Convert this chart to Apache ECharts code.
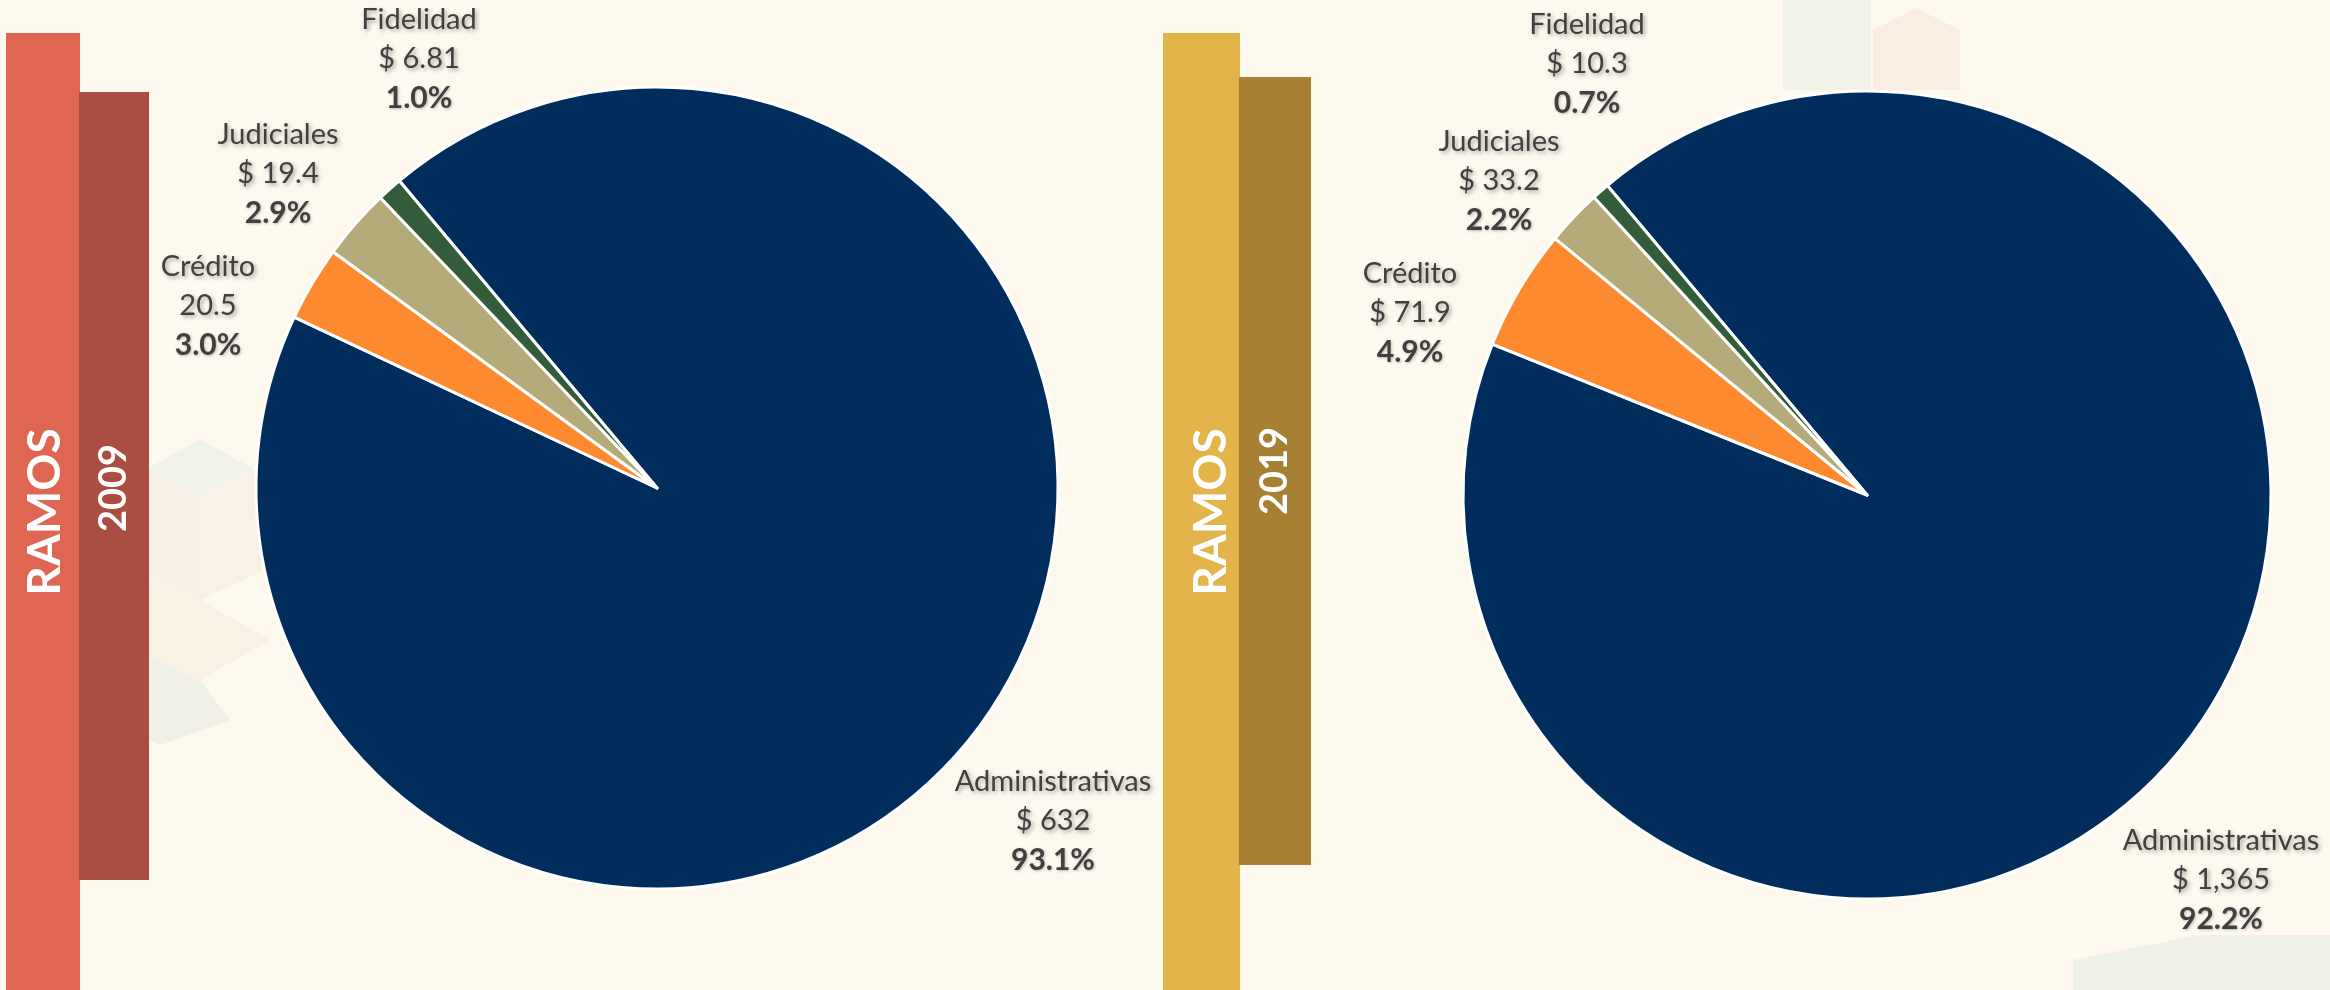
<!DOCTYPE html>
<html>
<head>
<meta charset="utf-8">
<script src="https://cdn.jsdelivr.net/npm/echarts@6/dist/echarts.min.js"></script>
<style>
html,body{margin:0;padding:0;background:#FDF9EE;}
#main{width:2330px;height:990px;}
</style>
</head>
<body>
<div id="main"></div>
<script>
// ---- data ----
const categories = ['Administrativas', 'Crédito', 'Judiciales', 'Fidelidad'];
const values2009 = [632, 20.5, 19.4, 6.81];
const values2019 = [1365, 71.9, 33.2, 10.3];
const prefix2009 = ['$ ', '', '$ ', '$ '];
const prefix2019 = ['$ ', '$ ', '$ ', '$ '];
const years = ['2009', '2019'];
const sideTitle = 'RAMOS';

const colors = ['#012D5C', '#FE8A2F', '#B4AA7A', '#335C3B'];

// label anchor positions (layout only)
const labelPos = [
  {Administrativas:[1053, 821], 'Crédito':[208, 306], Judiciales:[278, 174], Fidelidad:[419, 59]},
  {Administrativas:[2221, 880], 'Crédito':[1410, 313], Judiciales:[1499, 181], Fidelidad:[1587, 64]}
];

const chart = echarts.init(document.getElementById('main'));

function fmtVal(v){
  return v.toLocaleString('en-US');
}

const shadow = {textShadowColor: 'rgba(0,0,0,0.35)', textShadowBlur: 4, textShadowOffsetX: 2, textShadowOffsetY: 2};

function makeSeries(vals, prefixes, center, radius, idx){
  return {
    type: 'pie',
    center: center,
    radius: radius,
    startAngle: 130,
    clockwise: true,
    avoidLabelOverlap: false,
    itemStyle: {borderColor: '#FFFFFF', borderWidth: 3},
    emphasis: {disabled: true},
    labelLine: {show: false},
    label: {
      show: true,
      position: 'outside',
      formatter: function(p){
        return '{n|' + p.name + '}\n{v|' + prefixes[p.dataIndex] + fmtVal(p.value) + '}\n{p|' + p.percent.toFixed(1) + '%}';
      },
      rich: {
        n: Object.assign({fontFamily: 'Lato', fontSize: 29, color: '#404040', lineHeight: 39}, shadow),
        v: Object.assign({fontFamily: 'Lato', fontSize: 29, color: '#404040', lineHeight: 39}, shadow),
        p: {fontFamily: 'Lato', fontSize: 30, fontWeight: 'bold', color: '#404040', lineHeight: 39,
            textShadowColor: 'rgba(0,0,0,0.25)', textShadowBlur: 3, textShadowOffsetX: 1, textShadowOffsetY: 1}
      }
    },
    labelLayout: function(p){
      const pos = labelPos[idx][categories[p.dataIndex]];
      return {x: pos[0], y: pos[1], align: 'center', verticalAlign: 'middle'};
    },
    data: categories.map((c, i) => ({name: c, value: vals[i], itemStyle: {color: colors[i]}}))
  };
}

const whiteText = {fill: '#FFFFFF', fontFamily: 'Lato', fontWeight: 'bold'};

chart.setOption({
  backgroundColor: '#FDF9EE',
  animation: false,
  graphic: [
    // faint background decoration
    {type:'polygon', z:-10, shape:{points:[[148,468],[200,440],[253,468],[200,498]]}, style:{fill:'#EEF0E8', opacity:0.8}},
    {type:'polygon', z:-10, shape:{points:[[148,468],[200,498],[200,600],[148,575]]}, style:{fill:'#F6ECE4', opacity:0.8}},
    {type:'polygon', z:-10, shape:{points:[[200,498],[253,468],[265,570],[200,600]]}, style:{fill:'#F7EEE4', opacity:0.8}},
    {type:'polygon', z:-10, shape:{points:[[148,575],[200,600],[270,640],[200,680],[148,655]]}, style:{fill:'#F8F1E2', opacity:0.9}},
    {type:'polygon', z:-10, shape:{points:[[148,655],[200,680],[230,720],[160,745],[148,740]]}, style:{fill:'#EFEEE5', opacity:0.9}},
    {type:'rect', z:-10, shape:{x:1783, y:0, width:88, height:90}, style:{fill:'#F1F2E8'}},
    {type:'polygon', z:-10, shape:{points:[[1873,30],[1916,8],[1960,30],[1960,90],[1873,90]]}, style:{fill:'#FAEDE2'}},
    {type:'polygon', z:-10, shape:{points:[[2073,990],[2073,960],[2200,935],[2330,935],[2330,990]]}, style:{fill:'#EFF1E8'}},
    // 2009 side bars
    {type:'rect', shape:{x:6, y:33, width:74, height:957}, style:{fill:'#DE6653'}},
    {type:'rect', shape:{x:79, y:92, width:70, height:788}, style:{fill:'#AB4E42'}},
    {type:'text', x:45, y:512, rotation:Math.PI/2, style:Object.assign({text:sideTitle, fontSize:46, align:'center', verticalAlign:'middle'}, whiteText)},
    {type:'text', x:114, y:488, rotation:Math.PI/2, style:Object.assign({text:years[0], fontSize:38, align:'center', verticalAlign:'middle'}, whiteText)},
    // 2019 side bars
    {type:'rect', shape:{x:1163, y:33, width:77, height:957}, style:{fill:'#E2B44A'}},
    {type:'rect', shape:{x:1239, y:77, width:72, height:788}, style:{fill:'#A68033'}},
    {type:'text', x:1211, y:512, rotation:Math.PI/2, style:Object.assign({text:sideTitle, fontSize:46, align:'center', verticalAlign:'middle'}, whiteText)},
    {type:'text', x:1275, y:471, rotation:Math.PI/2, style:Object.assign({text:years[1], fontSize:38, align:'center', verticalAlign:'middle'}, whiteText)}
  ],
  series: [
    makeSeries(values2009, prefix2009, [657, 488], 401, 0),
    makeSeries(values2019, prefix2019, [1867, 495], 404, 1)
  ]
});
</script>
</body>
</html>
